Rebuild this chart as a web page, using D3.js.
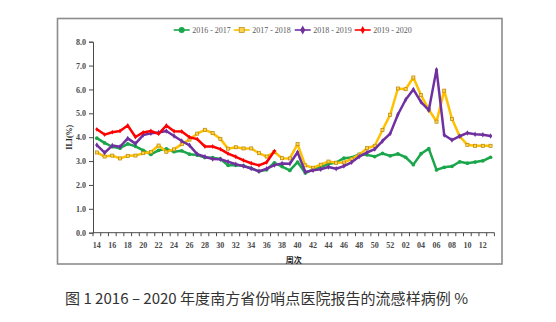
<!DOCTYPE html>
<html>
<head>
<meta charset="utf-8">
<script src="https://cdn.jsdelivr.net/npm/d3@7"></script>
<style>
  html, body { margin: 0; padding: 0; background: #fff; }
  svg { display: block; }
</style>
</head>
<body>
<svg id="chart" width="556" height="322"></svg>
<script>
// Surveillance weeks: 14..52 of the first year, then 01..13 of the next
const weeks = ["14","15","16","17","18","19","20","21","22","23","24","25","26","27","28","29","30",
  "31","32","33","34","35","36","37","38","39","40","41","42","43","44","45","46","47","48","49","50",
  "51","52","01","02","03","04","05","06","07","08","09","10","11","12","13"];

// ILI% per season
const ili2016 = [3.96,3.76,3.60,3.54,3.72,3.62,3.45,3.28,3.45,3.51,3.39,3.43,3.29,3.25,3.15,3.14,3.09,
  2.82,2.82,2.80,2.70,2.57,2.64,2.93,2.77,2.61,2.96,2.50,2.65,2.75,2.88,2.94,3.12,3.15,3.28,3.26,3.19,
  3.32,3.22,3.30,3.16,2.85,3.31,3.52,2.63,2.74,2.78,2.97,2.91,2.96,3.01,3.16];
const ili2017 = [3.36,3.19,3.23,3.11,3.22,3.23,3.33,3.38,3.65,3.39,3.49,3.71,3.90,4.15,4.31,4.17,3.93,
  3.52,3.58,3.53,3.53,3.33,3.19,3.38,3.12,3.11,3.71,2.82,2.72,2.85,2.98,2.93,2.94,3.09,3.27,3.54,3.64,
  4.30,4.94,6.04,6.01,6.50,5.76,5.16,4.65,5.95,4.77,4.04,3.68,3.64,3.64,3.64];
const ili2018 = [3.67,3.35,3.65,3.60,3.95,3.73,4.09,4.16,4.20,4.26,4.05,3.84,3.66,3.29,3.18,3.09,3.08,
  2.97,2.87,2.79,2.69,2.57,2.68,2.83,2.90,2.89,3.37,2.54,2.61,2.66,2.75,2.68,2.79,2.95,3.19,3.36,3.50,
  3.84,4.15,4.95,5.57,6.00,5.47,5.13,6.83,4.09,3.88,4.04,4.18,4.12,4.10,4.05];
const ili2019 = [4.33,4.11,4.21,4.26,4.49,4.01,4.20,4.26,4.14,4.49,4.25,4.24,4.00,3.92,3.61,3.61,3.50,
  3.31,3.18,3.03,2.91,2.82,2.95,3.42];

const seasonNames = ["2016 - 2017","2017 - 2018","2018 - 2019","2019 - 2020"];
const yTicks = [0,1,2,3,4,5,6,7,8];

const seasons = [
  { name: seasonNames[0], values: ili2016, color: "#1aa64a", marker: "circle" },
  { name: seasonNames[1], values: ili2017, color: "#ffc000", marker: "square" },
  { name: seasonNames[2], values: ili2018, color: "#7030a0", marker: "diamond" },
  { name: seasonNames[3], values: ili2019, color: "#ff0000", marker: "cross" }
];

const svg = d3.select("#chart");
const serif = "'Liberation Serif', 'Times New Roman', serif";
const inkColor = "#4a4a4a";

// Outer frame around the chart block
svg.append("rect")
  .attr("x", 57.5).attr("y", 18.5)
  .attr("width", 444.5).attr("height", 245.5)
  .attr("fill", "none").attr("stroke", "#8c8c8c").attr("stroke-width", 1.6);

const plot = { left: 93, right: 494.4, top: 41.7, bottom: 232.7 };

const xBand = d3.scaleBand().domain(weeks).range([plot.left, plot.right]);
const x = d => xBand(d) + xBand.bandwidth() / 2;
const y = d3.scaleLinear().domain([0, 8]).range([plot.bottom, plot.top]);

// Y axis
const yAxis = d3.axisLeft(y).tickValues(yTicks).tickFormat(d3.format(".1f")).tickSize(4).tickPadding(3);
const gy = svg.append("g").attr("transform", `translate(${plot.left},0)`).call(yAxis);
gy.select(".domain").attr("stroke", inkColor);
gy.selectAll(".tick line").attr("stroke", inkColor);
gy.selectAll("text").attr("fill", inkColor).style("font-family", serif).style("font-size", "8px")
  .style("font-weight", "bold");

// X axis: tick marks on category boundaries, labels every second week
const gx = svg.append("g").attr("transform", `translate(0,${plot.bottom})`);
gx.append("line").attr("x1", plot.left).attr("x2", plot.right).attr("stroke", inkColor);
const bounds = weeks.map(w => xBand(w)).concat([plot.right]);
gx.selectAll("line.tk").data(bounds).enter().append("line").attr("class", "tk")
  .attr("x1", d => d).attr("x2", d => d).attr("y1", 0).attr("y2", 3.5).attr("stroke", inkColor);
gx.selectAll("text").data(weeks.filter((w, i) => i % 2 === 0)).enter().append("text")
  .attr("x", d => x(d)).attr("y", 15)
  .attr("text-anchor", "middle")
  .attr("fill", inkColor).style("font-family", serif).style("font-size", "8px").style("font-weight", "bold")
  .text(d => d);

// Axis titles
svg.append("text").attr("x", (plot.left + plot.right) / 2).attr("y", 263)
  .attr("text-anchor", "middle").attr("fill", "#262626")
  .style("font-family", "'Noto Sans CJK SC', sans-serif").style("font-size", "8px").style("font-weight", "bold")
  .text("周次");
svg.append("text").attr("transform", `translate(72,${(plot.top + plot.bottom) / 2}) rotate(-90)`)
  .attr("text-anchor", "middle").attr("fill", "#262626")
  .style("font-family", serif).style("font-size", "8px").style("font-weight", "bold")
  .text("ILI(%)");

// Marker drawing helper
function drawMarker(g, type, color, s) {
  if (type === "circle") {
    g.append("circle").attr("r", s * 0.6).attr("fill", color);
  } else if (type === "square") {
    g.append("rect").attr("x", -s / 2).attr("y", -s / 2).attr("width", s).attr("height", s)
      .attr("fill", "#ffd24d").attr("stroke", "#b8860b").attr("stroke-width", 0.7);
  } else if (type === "diamond") {
    g.append("path").attr("d", d3.symbol(d3.symbolDiamond, s * s * 0.9)()).attr("fill", color);
  } else {
    g.append("path").attr("d", d3.symbol(d3.symbolDiamond, s * s * 0.7)()).attr("fill", color);
  }
}

// Season lines with markers
const line = d3.line().x((d, i) => x(weeks[i])).y(d => y(d));
seasons.forEach(s => {
  const g = svg.append("g");
  g.append("path").datum(s.values).attr("d", line)
    .attr("fill", "none").attr("stroke", s.color).attr("stroke-width", 2.5)
    .attr("stroke-linejoin", "round").attr("stroke-linecap", "round");
  s.values.forEach((v, i) => {
    const m = g.append("g").attr("transform", `translate(${x(weeks[i])},${y(v)})`);
    drawMarker(m, s.marker, s.color, 3.1);
  });
});

// Legend
const legendX = [181.7, 241.7, 302.7, 362.7];
seasons.forEach((s, i) => {
  const g = svg.append("g").attr("transform", `translate(${legendX[i]},30)`);
  g.append("line").attr("x1", -8).attr("x2", 8).attr("stroke", s.color).attr("stroke-width", 1.6);
  drawMarker(g, s.marker, s.color, 5);
  g.append("text").attr("x", 10.5).attr("y", 2.8).attr("fill", "#595959")
    .style("font-family", serif).style("font-size", "8px").text(s.name);
});

// Caption
svg.append("text").attr("x", 65).attr("y", 303.5)
  .attr("fill", "#333").attr("textLength", 403).attr("lengthAdjust", "spacingAndGlyphs")
  .style("font-family", "'Noto Sans CJK SC', sans-serif").style("font-size", "15px")
  .text("图 1 2016 – 2020 年度南方省份哨点医院报告的流感样病例 %");
</script>
</body>
</html>
